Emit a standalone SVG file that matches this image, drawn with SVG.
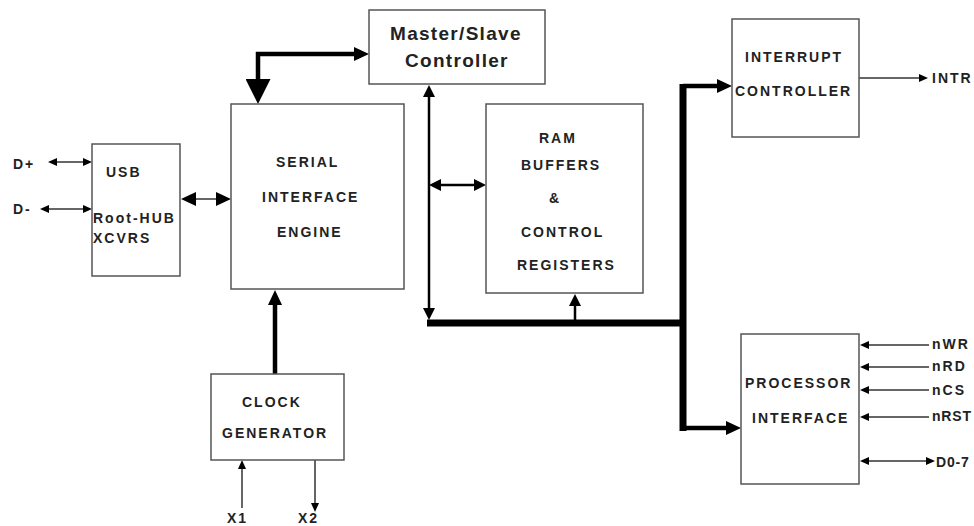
<svg xmlns="http://www.w3.org/2000/svg" width="974" height="526" viewBox="0 0 974 526">
  <style>
    .box { fill: #ffffff; stroke: #555555; stroke-width: 1.5; }
    .lbl { font-family: "Liberation Sans", Arial, sans-serif; font-weight: bold; font-size: 14px; letter-spacing: 2px; fill: #222222; }
    .big { font-size: 19px; letter-spacing: 1.3px; }
    .tight { letter-spacing: 0.8px; }
    .sig { fill: none; stroke: #333333; stroke-width: 1.5; }
    .mid { fill: none; stroke: #000000; stroke-width: 2.5; }
    .bold { fill: none; stroke: #000000; stroke-width: 4.5; }
    .bus { fill: none; stroke: #000000; stroke-width: 7; }
  </style>
  <defs>
    <!-- arrowheads: the base sits on the path vertex, the tip extends beyond it -->
    <marker id="a-s" markerUnits="userSpaceOnUse" viewBox="0 0 9 8" markerWidth="9" markerHeight="8" refX="0" refY="4" orient="auto-start-reverse">
      <path d="M0,0 L9,4 L0,8 z" fill="#000"/>
    </marker>
    <marker id="a-m" markerUnits="userSpaceOnUse" viewBox="0 0 12 12" markerWidth="12" markerHeight="12" refX="0" refY="6" orient="auto-start-reverse">
      <path d="M0,0 L12,6 L0,12 z" fill="#000"/>
    </marker>
    <marker id="a-l" markerUnits="userSpaceOnUse" viewBox="0 0 15 14" markerWidth="15" markerHeight="14" refX="0" refY="7" orient="auto-start-reverse">
      <path d="M0,0 L15,7 L0,14 z" fill="#000"/>
    </marker>
    <marker id="a-xl" markerUnits="userSpaceOnUse" viewBox="0 0 25 25" markerWidth="25" markerHeight="25" refX="0" refY="12.5" orient="auto-start-reverse">
      <path d="M0,0 L25,12.5 L0,25 z" fill="#000"/>
    </marker>
  </defs>

  <rect width="974" height="526" fill="#ffffff"/>

  <g id="connectors">
    <!-- USB data lines -->
    <path class="sig" d="M57,162 H83" marker-start="url(#a-s)" marker-end="url(#a-s)"/>
    <path class="sig" d="M49,209 H83" marker-start="url(#a-s)" marker-end="url(#a-s)"/>
    <!-- USB transceiver to SIE -->
    <path class="sig" d="M196,199 H216" marker-start="url(#a-l)" marker-end="url(#a-l)"/>
    <!-- SIE to master/slave controller -->
    <path class="bold" d="M258,79 V54 H354" stroke-linejoin="miter" marker-start="url(#a-xl)" marker-end="url(#a-l)"/>
    <!-- internal bus riser to master/slave controller -->
    <path class="mid" d="M429,97 V308" marker-start="url(#a-m)" marker-end="url(#a-m)"/>
    <!-- riser to RAM -->
    <path class="mid" d="M441,185 H474" marker-start="url(#a-m)" marker-end="url(#a-m)"/>
    <!-- main internal bus -->
    <path class="bus" d="M427,323 H683"/>
    <path class="bus" d="M683,84 V431"/>
    <!-- bus to interrupt controller and processor interface -->
    <path class="bold" d="M683,86 H717" marker-end="url(#a-l)"/>
    <path class="bold" d="M683,428 H726" marker-end="url(#a-l)"/>
    <!-- bus to RAM -->
    <path class="mid" d="M575,320 V306" stroke-width="3" marker-end="url(#a-m)"/>
    <!-- clock to SIE -->
    <path class="bold" d="M275,374 V305" marker-end="url(#a-l)"/>
    <!-- interrupt output -->
    <path class="sig" d="M859,78 H919" stroke="#777" marker-end="url(#a-s)"/>
    <!-- processor signals -->
    <path class="sig" d="M929,345 H869" marker-end="url(#a-s)"/>
    <path class="sig" d="M929,367 H869" stroke="#777" marker-end="url(#a-s)"/>
    <path class="sig" d="M929,390 H869" stroke="#777" marker-end="url(#a-s)"/>
    <path class="sig" d="M929,417 H869" stroke="#777" marker-end="url(#a-s)"/>
    <path class="sig" d="M869,461 H926" marker-start="url(#a-s)" marker-end="url(#a-s)"/>
    <!-- crystal -->
    <path class="sig" d="M242,508 V469" marker-end="url(#a-s)"/>
    <path class="sig" d="M315,460 V503" marker-end="url(#a-s)"/>
  </g>

  <g id="usb">
    <rect class="box" x="92" y="144" width="88" height="132"/>
    <text class="lbl" x="106" y="177">USB</text>
    <text class="lbl" x="93" y="223">Root-HUB</text>
    <text class="lbl" x="93" y="243">XCVRS</text>
  </g>

  <g id="sie">
    <rect class="box" x="231" y="104" width="173" height="185"/>
    <text class="lbl" x="276" y="167">SERIAL</text>
    <text class="lbl" x="262" y="202">INTERFACE</text>
    <text class="lbl" x="277" y="237">ENGINE</text>
  </g>

  <g id="master-slave">
    <rect class="box" x="369" y="10" width="176" height="74"/>
    <text class="lbl big" x="390" y="40">Master/Slave</text>
    <text class="lbl big" x="405" y="67">Controller</text>
  </g>

  <g id="ram">
    <rect class="box" x="486" y="104" width="157" height="189"/>
    <text class="lbl" x="539" y="143">RAM</text>
    <text class="lbl" x="521" y="170">BUFFERS</text>
    <text class="lbl" x="549" y="203">&amp;</text>
    <text class="lbl" x="521" y="237">CONTROL</text>
    <text class="lbl" x="517" y="270">REGISTERS</text>
  </g>

  <g id="interrupt">
    <rect class="box" x="732" y="19" width="127" height="118"/>
    <text class="lbl" x="745" y="62">INTERRUPT</text>
    <text class="lbl" x="735" y="96">CONTROLLER</text>
  </g>

  <g id="processor">
    <rect class="box" x="741" y="334" width="118" height="150"/>
    <text class="lbl" x="745" y="388">PROCESSOR</text>
    <text class="lbl" x="752" y="423">INTERFACE</text>
  </g>

  <g id="clock">
    <rect class="box" x="211" y="374" width="133" height="86"/>
    <text class="lbl" x="242" y="407">CLOCK</text>
    <text class="lbl" x="222" y="438">GENERATOR</text>
  </g>

  <g id="pins">
    <text class="lbl" x="13" y="169">D+</text>
    <text class="lbl" x="13" y="214">D-</text>
    <text class="lbl" x="932" y="83">INTR</text>
    <text class="lbl" x="932" y="349">nWR</text>
    <text class="lbl" x="932" y="371">nRD</text>
    <text class="lbl" x="932" y="395">nCS</text>
    <text class="lbl tight" x="932" y="421">nRST</text>
    <text class="lbl tight" x="936" y="467">D0-7</text>
    <text class="lbl" x="227" y="523">X1</text>
    <text class="lbl" x="298" y="523">X2</text>
  </g>
</svg>
